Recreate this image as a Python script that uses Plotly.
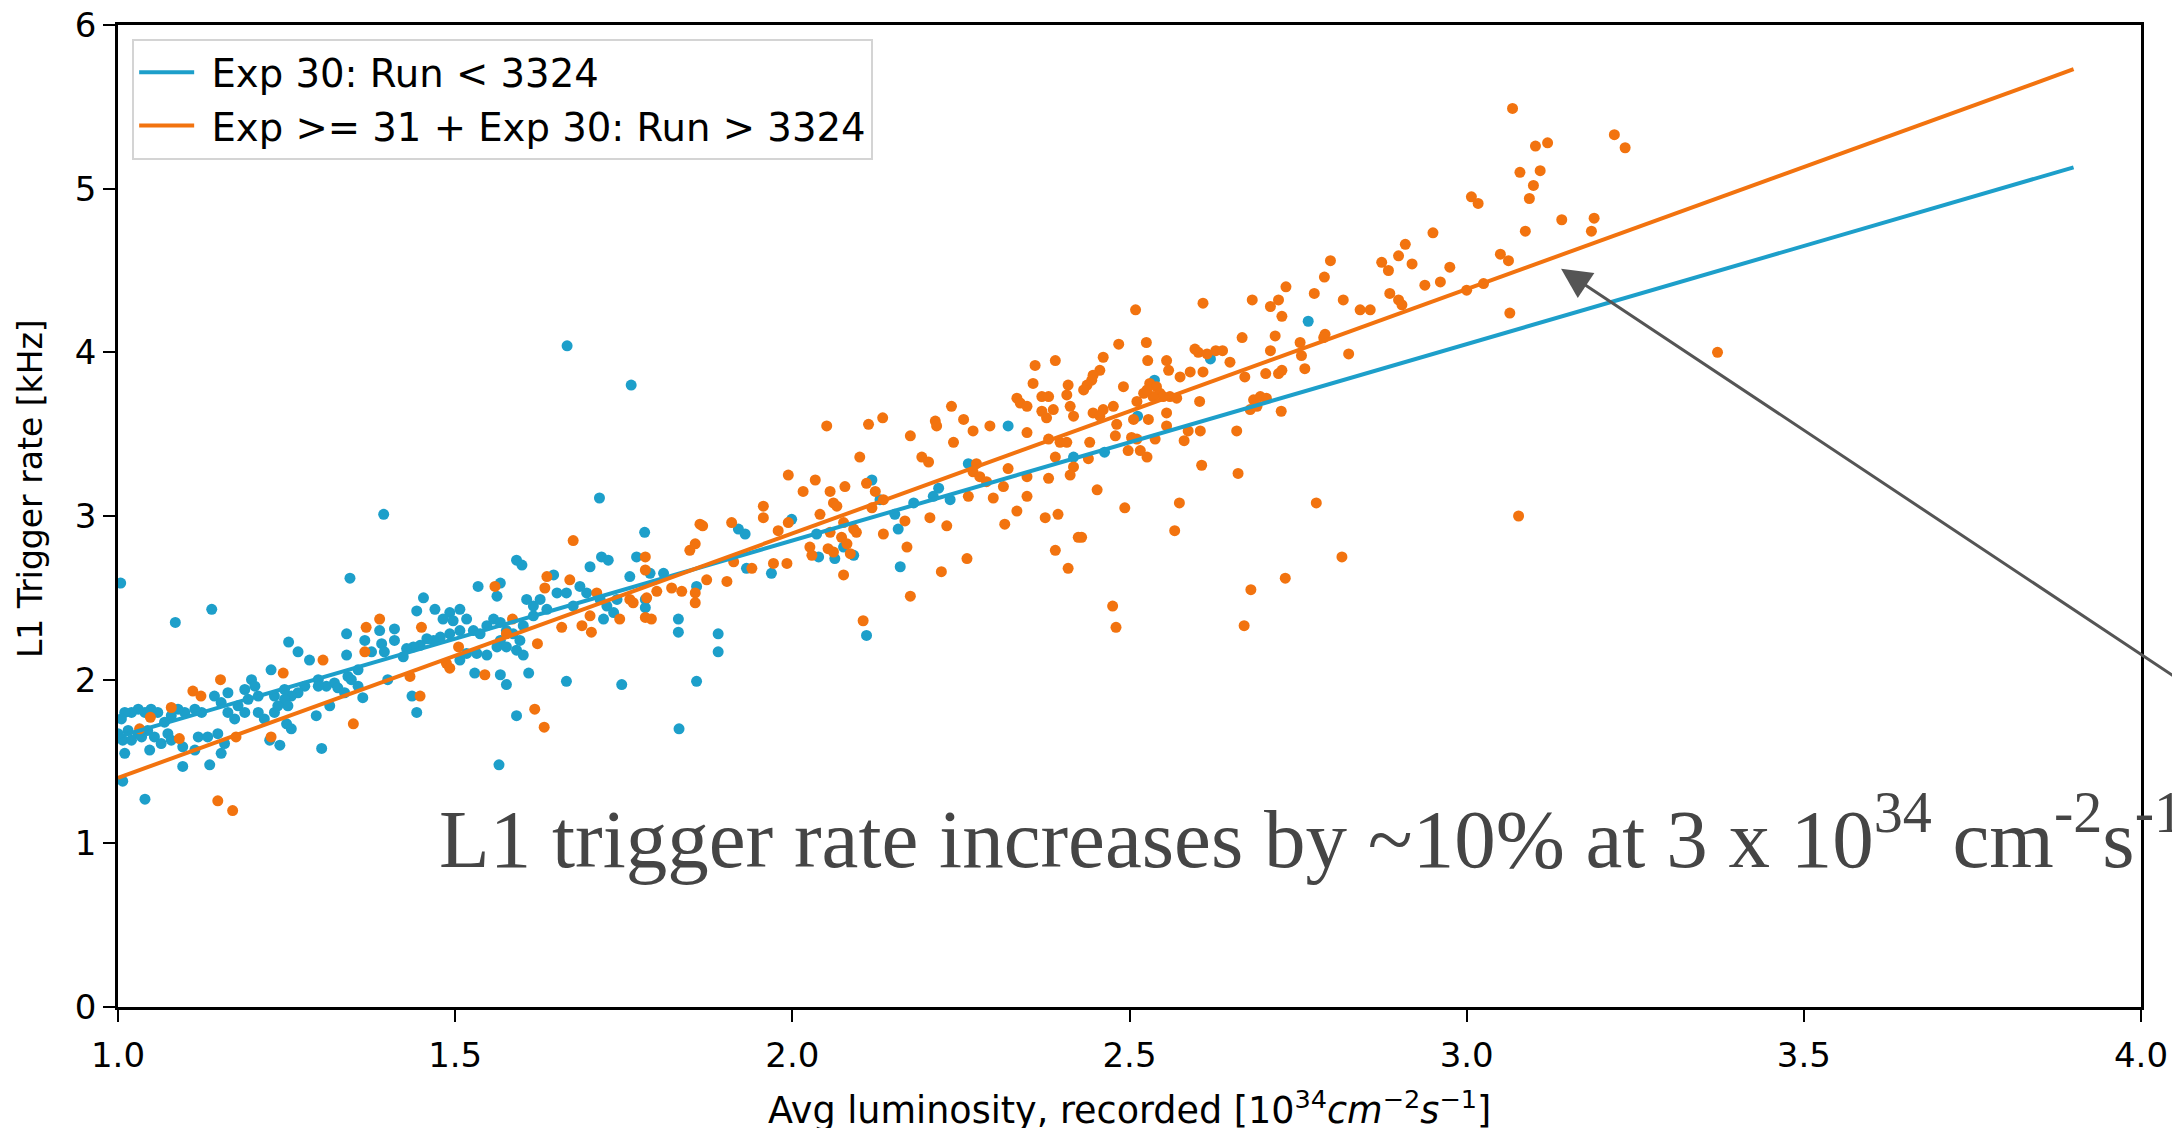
import plotly.graph_objects as go

# ---------------- data ----------------
# (luminosity [1e34 cm^-2 s^-1], L1 rate [kHz])
blue_runs = [
    (1.394, 3.01), (1.004, 2.59), (1.344, 2.62), (1.139, 2.43), (1.085, 2.35), (1.253, 2.23), (1.267, 2.17),
    (1.284, 2.12), (1.227, 2.06), (1.339, 2.28), (1.339, 2.15), (1.366, 2.24), (1.388, 2.30), (1.391, 2.22),
    (1.410, 2.31), (1.410, 2.24), (1.395, 2.17), (1.376, 2.17), (1.356, 2.06), (1.341, 2.02), (1.321, 1.98),
    (1.309, 1.96), (1.297, 2.00), (1.297, 1.96), (1.277, 1.96), (1.267, 1.92), (1.257, 1.90), (1.247, 1.88),
    (1.252, 1.84), (1.198, 2.00), (1.203, 1.96), (1.188, 1.94), (1.208, 1.90), (1.193, 1.88), (1.178, 1.84),
    (1.163, 1.80), (1.173, 1.76), (1.188, 1.80), (1.208, 1.80), (1.217, 1.76), (1.232, 1.80), (1.237, 1.84),
    (1.143, 1.90), (1.153, 1.86), (1.163, 1.92), (1.124, 1.80), (1.114, 1.82), (1.099, 1.80), (1.089, 1.82),
    (1.079, 1.78), (1.069, 1.74), (1.059, 1.80), (1.049, 1.82), (1.040, 1.80), (1.030, 1.82), (1.020, 1.80),
    (1.010, 1.80), (1.005, 1.76), (1.015, 1.69), (1.030, 1.67), (1.044, 1.69), (1.054, 1.65), (1.064, 1.61),
    (1.074, 1.67), (1.079, 1.63), (1.000, 1.67), (1.007, 1.63), (1.020, 1.63), (1.035, 1.65), (1.119, 1.65),
    (1.133, 1.65), (1.148, 1.67), (1.158, 1.61), (1.010, 1.55), (1.047, 1.57), (1.096, 1.59), (1.114, 1.57),
    (1.153, 1.55), (1.096, 1.47), (1.136, 1.48), (1.007, 1.38), (1.040, 1.27), (1.225, 1.63), (1.240, 1.60),
    (1.250, 1.73), (1.257, 1.70), (1.294, 1.78), (1.302, 1.58), (1.314, 1.84), (1.326, 1.95), (1.336, 1.92),
    (1.363, 1.89), (1.356, 1.96), (1.346, 2.00), (1.400, 2.00), (1.232, 1.90), (1.247, 1.94),
    (1.714, 3.11), (1.781, 2.90), (1.591, 2.73), (1.599, 2.70), (1.717, 2.75), (1.727, 2.73), (1.700, 2.69),
    (1.769, 2.75), (1.759, 2.63), (1.809, 2.65), (1.789, 2.65), (1.534, 2.57), (1.567, 2.59), (1.562, 2.51),
    (1.453, 2.50), (1.470, 2.43), (1.443, 2.42), (1.507, 2.43), (1.492, 2.41), (1.482, 2.37), (1.497, 2.36),
    (1.517, 2.37), (1.527, 2.30), (1.507, 2.30), (1.492, 2.28), (1.478, 2.26), (1.468, 2.24), (1.458, 2.25),
    (1.448, 2.21), (1.438, 2.20), (1.428, 2.19), (1.423, 2.14), (1.537, 2.28), (1.547, 2.33), (1.557, 2.37),
    (1.567, 2.35), (1.576, 2.30), (1.586, 2.28), (1.596, 2.24), (1.567, 2.24), (1.562, 2.20), (1.576, 2.20),
    (1.591, 2.18), (1.606, 2.49), (1.616, 2.45), (1.626, 2.49), (1.636, 2.43), (1.651, 2.53), (1.665, 2.53),
    (1.675, 2.45), (1.685, 2.57), (1.695, 2.53), (1.715, 2.49), (1.725, 2.45), (1.735, 2.41), (1.720, 2.37),
    (1.740, 2.49), (1.616, 2.39), (1.601, 2.33), (1.532, 2.16), (1.547, 2.15), (1.517, 2.16), (1.507, 2.12),
    (1.601, 2.15), (1.529, 2.04), (1.567, 2.03), (1.576, 1.97), (1.609, 2.04), (1.665, 1.99), (1.747, 1.97),
    (1.436, 1.90), (1.443, 1.80), (1.591, 1.78), (1.782, 2.44), (1.782, 2.49), (1.831, 2.37), (1.831, 2.29),
    (1.858, 2.57), (1.858, 1.99), (1.832, 1.70), (1.646, 2.64), (1.565, 1.48), (1.666, 4.04),
    (1.761, 3.80), (1.920, 2.92), (1.930, 2.89), (1.932, 2.68), (1.969, 2.65), (1.999, 2.98), (2.036, 2.89),
    (2.039, 2.75), (2.063, 2.74), (2.076, 2.81), (2.091, 2.76), (2.118, 3.22), (2.130, 3.10), (2.152, 3.01),
    (2.157, 2.92), (2.160, 2.69), (2.110, 2.27), (2.180, 3.08), (2.209, 3.12), (2.217, 3.17), (2.234, 3.10),
    (2.261, 3.32), (2.320, 3.55), (2.417, 3.36), (1.890, 2.28), (1.890, 2.17),
    (2.765, 4.19), (2.620, 3.96), (2.537, 3.83), (2.512, 3.61), (2.463, 3.39),
]

orange_runs = [
    (1.388, 2.37), (1.368, 2.32), (1.366, 2.17), (1.304, 2.12), (1.245, 2.04), (1.152, 2.00), (1.111, 1.93),
    (1.123, 1.90), (1.079, 1.83), (1.048, 1.77), (1.032, 1.70), (1.091, 1.64), (1.175, 1.65), (1.227, 1.65),
    (1.349, 1.73), (1.148, 1.26), (1.170, 1.20),
    (1.675, 2.85), (1.559, 2.57), (1.450, 2.32), (1.505, 2.20), (1.487, 2.10), (1.492, 2.07), (1.433, 2.02),
    (1.448, 1.90), (1.544, 2.03), (1.622, 2.22), (1.618, 1.82), (1.632, 1.71), (1.585, 2.37), (1.636, 2.63),
    (1.633, 2.56), (1.670, 2.61), (1.710, 2.53), (1.658, 2.32), (1.688, 2.33), (1.702, 2.29), (1.700, 2.39),
    (1.744, 2.37), (1.782, 2.38), (1.791, 2.37), (1.759, 2.49), (1.764, 2.47), (1.784, 2.50), (1.799, 2.54),
    (1.782, 2.75), (1.782, 2.67), (1.821, 2.56), (1.836, 2.54), (1.856, 2.53), (1.856, 2.47), (1.848, 2.79),
    (1.856, 2.83), (1.863, 2.95), (1.576, 2.28),
    (2.051, 3.55), (2.113, 3.56), (2.134, 3.60), (2.175, 3.49), (2.212, 3.58), (2.214, 3.55), (2.236, 3.67),
    (2.254, 3.59), (2.268, 3.52), (2.293, 3.55), (2.360, 3.92), (2.390, 3.95), (2.357, 3.81), (2.333, 3.72),
    (2.338, 3.69), (2.348, 3.67), (2.370, 3.73), (2.380, 3.73), (2.409, 3.80), (2.407, 3.74), (2.412, 3.67),
    (2.370, 3.64), (2.377, 3.60), (2.387, 3.65), (2.417, 3.61), (2.348, 3.51), (2.380, 3.47), (2.397, 3.45),
    (2.407, 3.45), (2.417, 3.30), (2.412, 3.25), (2.192, 3.36), (2.202, 3.33), (2.239, 3.45), (2.100, 3.36),
    (1.994, 3.25), (2.034, 3.22), (2.016, 3.15), (2.056, 3.15), (2.078, 3.18), (2.110, 3.20), (2.123, 3.15),
    (1.957, 3.06), (1.957, 2.99), (1.910, 2.96), (1.867, 2.94), (1.979, 2.91), (1.994, 2.96), (2.041, 3.01),
    (2.061, 3.08), (2.066, 3.06), (2.056, 2.90), (2.076, 2.96), (2.091, 2.92), (2.095, 2.90), (2.073, 2.87),
    (2.081, 2.83), (2.086, 2.77), (2.026, 2.81), (2.029, 2.76), (2.053, 2.80), (2.061, 2.78), (1.972, 2.71),
    (1.992, 2.71), (1.940, 2.68), (1.913, 2.72), (1.903, 2.60), (1.873, 2.61), (2.076, 2.64), (2.118, 3.05),
    (2.135, 3.10), (2.135, 2.89), (2.167, 2.97), (2.170, 2.81), (2.204, 2.99), (2.229, 2.94), (2.273, 3.32),
    (2.268, 3.27), (2.278, 3.24), (2.288, 3.21), (2.261, 3.12), (2.298, 3.11), (2.313, 3.18), (2.320, 3.29),
    (2.348, 3.24), (2.348, 3.12), (2.380, 3.23), (2.390, 3.36), (2.333, 3.03), (2.315, 2.95), (2.375, 2.99),
    (2.394, 3.01), (2.390, 2.79), (2.409, 2.68), (2.424, 2.87), (2.259, 2.74), (2.221, 2.66), (2.175, 2.51),
    (2.105, 2.36),
    (3.099, 5.02), (3.093, 4.94), (3.087, 4.74), (3.007, 4.95), (3.017, 4.91), (2.950, 4.73), (2.909, 4.66),
    (2.899, 4.59), (2.919, 4.54), (2.874, 4.55), (2.884, 4.50), (2.975, 4.52), (3.050, 4.60), (3.062, 4.56),
    (2.938, 4.41), (2.961, 4.43), (3.000, 4.38), (3.025, 4.42), (2.886, 4.36), (2.899, 4.32), (2.904, 4.29),
    (2.842, 4.26), (2.857, 4.26), (2.817, 4.32), (3.064, 4.24), (2.798, 4.56), (2.789, 4.46), (2.774, 4.36),
    (2.732, 4.40), (2.721, 4.32), (2.709, 4.28), (2.726, 4.22), (2.682, 4.32), (2.609, 4.30), (2.509, 4.26),
    (2.716, 4.10), (2.709, 4.01), (2.667, 4.09), (2.790, 4.11), (2.788, 4.09), (2.753, 4.06), (2.755, 3.98),
    (2.760, 3.90), (2.825, 3.99), (2.726, 3.89), (2.721, 3.87), (2.702, 3.87), (2.671, 3.85), (2.602, 4.00),
    (2.597, 4.02), (2.615, 3.99), (2.628, 4.01), (2.638, 4.01), (2.649, 3.94), (2.609, 3.88), (2.590, 3.88),
    (2.575, 3.85), (2.555, 3.95), (2.558, 3.89), (2.484, 4.05), (2.525, 4.06), (2.527, 3.95), (2.461, 3.97),
    (2.456, 3.89), (2.446, 3.86), (2.444, 3.83), (2.437, 3.80), (2.432, 3.77), (2.491, 3.79), (2.476, 3.67),
    (2.461, 3.65), (2.446, 3.63), (2.456, 3.61), (2.511, 3.70), (2.521, 3.75), (2.530, 3.81), (2.540, 3.79),
    (2.545, 3.75), (2.550, 3.73), (2.560, 3.73), (2.570, 3.72), (2.535, 3.73), (2.526, 3.77), (2.555, 3.63),
    (2.604, 3.70), (2.684, 3.71), (2.694, 3.73), (2.703, 3.72), (2.679, 3.65), (2.689, 3.67), (2.725, 3.64),
    (2.506, 3.59), (2.528, 3.59), (2.481, 3.56), (2.479, 3.49), (2.555, 3.55), (2.587, 3.52), (2.605, 3.52),
    (2.581, 3.46), (2.538, 3.47), (2.659, 3.52), (2.498, 3.40), (2.516, 3.40), (2.526, 3.36), (2.511, 3.47),
    (2.503, 3.48), (2.441, 3.45), (2.439, 3.35), (2.607, 3.31), (2.661, 3.26), (2.452, 3.16), (2.493, 3.05),
    (2.574, 3.08), (2.567, 2.91), (2.777, 3.08), (3.077, 3.00), (2.815, 2.75), (2.731, 2.62), (2.680, 2.55),
    (2.475, 2.45), (2.480, 2.32), (2.670, 2.33), (2.429, 2.87),
    (3.068, 5.49), (3.102, 5.26), (3.120, 5.28), (3.219, 5.33), (3.235, 5.25), (3.079, 5.10), (3.109, 5.11),
    (3.141, 4.81), (3.189, 4.82), (3.185, 4.74), (3.372, 4.00),
]

fit_lum = [1.0, 3.9]
blue_fit_rate = [1.65, 5.13]
orange_fit_rate = [1.40, 5.73]

blue_name = "&nbsp;Exp 30: Run &lt; 3324"
orange_name = "&nbsp;Exp &gt;= 31 + Exp 30: Run &gt; 3324"
x_ticks = [1.0, 1.5, 2.0, 2.5, 3.0, 3.5, 4.0]
y_ticks = [0, 1, 2, 3, 4, 5, 6]
arrow_head = (3.14, 4.51)
arrow_tail = (4.25, 1.47)

# ---------------- figure ----------------
BLUE = "#1d9fca"
ORANGE = "#f2730f"
FONT = "DejaVu Sans"

blue_lum = [p[0] for p in blue_runs]
blue_rate = [p[1] for p in blue_runs]
orange_lum = [p[0] for p in orange_runs]
orange_rate = [p[1] for p in orange_runs]

fig = go.Figure()
fig.add_trace(go.Scatter(x=blue_lum, y=blue_rate, mode="markers",
                         marker=dict(color=BLUE, size=11, line=dict(width=0)),
                         showlegend=False, hoverinfo="skip"))
fig.add_trace(go.Scatter(x=orange_lum, y=orange_rate, mode="markers",
                         marker=dict(color=ORANGE, size=11, line=dict(width=0)),
                         showlegend=False, hoverinfo="skip"))
fig.add_trace(go.Scatter(x=fit_lum, y=blue_fit_rate, mode="lines",
                         line=dict(color=BLUE, width=4), name=blue_name,
                         legendgroup="a"))
fig.add_trace(go.Scatter(x=fit_lum, y=orange_fit_rate, mode="lines",
                         line=dict(color=ORANGE, width=4), name=orange_name,
                         legendgroup="b"))

axis_common = dict(showline=True, linecolor="black", linewidth=2.5, mirror=True,
                   ticks="outside", ticklen=12, tickwidth=2, tickcolor="black",
                   showgrid=False, zeroline=False, ticklabeloverflow="allow",
                   automargin=False,
                   tickfont=dict(family=FONT, size=34, color="black"))

fig.update_layout(
    width=2180, height=1128, autosize=False,
    margin=dict(l=110, r=47, t=17, b=129, autoexpand=False),
    paper_bgcolor="white", plot_bgcolor="white",
    font=dict(family=FONT, color="black"),
    xaxis=dict(range=[1.0, 4.0], tickvals=x_ticks, tickformat=".1f",
               ticklabelstandoff=4, **axis_common),
    yaxis=dict(range=[0, 6], tickvals=y_ticks, **axis_common),
    legend=dict(x=0.007, y=0.986, xanchor="left", yanchor="top",
                bgcolor="rgba(255,255,255,0.85)", bordercolor="#d4d4d4", borderwidth=2,
                font=dict(family=FONT, size=38.6, color="black"),
                tracegroupgap=0, itemwidth=55),
)

fig.add_annotation(
    xref="paper", yref="paper", x=0.5, y=-0.103, xanchor="center", yanchor="middle",
    text="Avg luminosity, recorded [10<sup>34</sup><i>cm</i><sup>\u22122</sup><i>s</i><sup>\u22121</sup>]",
    showarrow=False, font=dict(family=FONT, size=36.5, color="black"))
fig.add_annotation(
    xref="paper", yref="paper", x=-0.0435, y=0.5285, xanchor="center", yanchor="middle",
    text="L1 Trigger rate [kHz]", textangle=-90,
    showarrow=False, font=dict(family=FONT, size=33, color="black"))

fig.add_annotation(
    xref="paper", yref="paper", x=0.1577, y=0.178, xanchor="left", yanchor="middle",
    text="L1 trigger rate increases by ~10% at 3 x 10<sup>34</sup> cm<sup>-2</sup>s<sup>-1</sup>",
    showarrow=False, font=dict(family="Liberation Serif", size=83, color="#454545"))

fig.add_annotation(
    x=arrow_head[0], y=arrow_head[1], xref="x", yref="y",
    ax=arrow_tail[0], ay=arrow_tail[1], axref="x", ayref="y", text="",
    showarrow=True, arrowhead=2, arrowsize=2.0, arrowwidth=3,
    arrowcolor="#555555")

fig.write_html("out.html")
